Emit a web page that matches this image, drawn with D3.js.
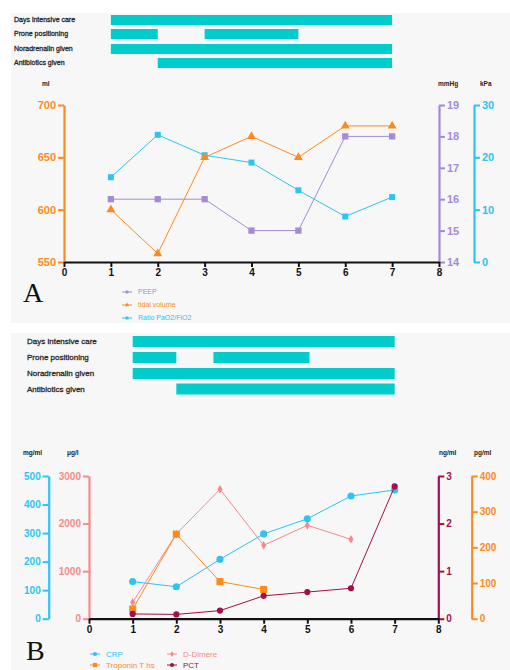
<!DOCTYPE html>
<html><head><meta charset="utf-8">
<script src="https://cdn.jsdelivr.net/npm/d3@7"></script>
<style>
body{margin:0;background:#fff;font-family:"Liberation Sans",Arial,sans-serif}
svg text{font-family:"Liberation Sans",Arial,sans-serif}
</style>
</head><body><svg id="chart"></svg><script>
// values
const xTicks = [0, 1, 2, 3, 4, 5, 6, 7, 8];
const days = [1, 2, 3, 4, 5, 6, 7];
const ganttRows = ['Days intensive care', 'Prone positioning', 'Noradrenalin given', 'Antibiotics given'];
const ganttA = [[[1, 7]], [[1, 2], [3, 5]], [[1, 7]], [[2, 7]]];
const ganttB = [[[1, 7]], [[1, 2], [2.85, 5.05]], [[1, 7]], [[2, 7]]];

const peep = [16, 16, 16, 15, 15, 18, 18];
const tidalVolume = [600, 558, 650, 670, 650, 680, 680];
const ratioPaO2 = [16.2, 24.3, 20.4, 19, 13.7, 8.7, 12.4];
const mlTicks = [550, 600, 650, 700];
const mmHgTicks = [14, 15, 16, 17, 18, 19];
const kPaTicks = [0, 10, 20, 30];

const crp = [130, 112, 208, 297, 350, 430, 451];
const dDimere = [345, 1780, 2720, 1543, 1963, 1669];
const troponin = [27, 237, 104, 82];
const pct = [0.1, 0.09, 0.17, 0.48, 0.56, 0.64, 2.78];
const mgmlTicks = [0, 100, 200, 300, 400, 500];
const ugTicks = [0, 1000, 2000, 3000];
const ngTicks = [0, 1, 2, 3];
const pgTicks = [0, 100, 200, 300, 400];

const col = {
  orange: '#ff8a1c', purple: '#a58bd6', cyan: '#2cc4f2', teal: '#00cccc',
  pink: '#f58a8a', crimson: '#a30f4b', bg: '#f7f7f7'
};

const svg = d3.select('#chart').attr('width', 510).attr('height', 670);

svg.append('rect').attr('x', 11).attr('y', 13).attr('width', 499).attr('height', 310).attr('fill', col.bg);
svg.append('rect').attr('x', 11).attr('y', 333).attr('width', 499).attr('height', 337).attr('fill', col.bg);

const gantt = (x, rows, ys, h, labelX, fs) => {
  rows.forEach((segs, i) => {
    svg.append('text')
      .attr('x', labelX).attr('y', ys[i]).attr('dy', '0.35em')
      .attr('font-size', fs).attr('fill', '#2a2a2a')
      .attr('stroke', '#2a2a2a').attr('stroke-width', 0.3)
      .text(ganttRows[i]);
    svg.append('g').selectAll('rect').data(segs).join('rect')
      .attr('x', d => x(d[0])).attr('width', d => x(d[1]) - x(d[0]))
      .attr('y', ys[i] - h / 2).attr('height', h)
      .attr('fill', col.teal);
  });
};

const yAxis = (axisFn, scale, ticks, xPos, color, fs) => {
  const g = svg.append('g')
    .attr('transform', `translate(${xPos},0)`)
    .call(axisFn(scale).tickValues(ticks).tickFormat(d3.format('d'))
      .tickSize(6).tickSizeOuter(0).tickPadding(2));
  g.select('.domain').attr('stroke', color).attr('stroke-width', 2.2);
  g.selectAll('.tick line').attr('stroke', color).attr('stroke-width', 2);
  g.selectAll('.tick text').attr('fill', color).attr('font-size', fs).attr('font-weight', 'bold')
    .attr('font-family', '"Liberation Sans",Arial,sans-serif');
  return g;
};

const xAxis = (x, yPos) => {
  const g = svg.append('g')
    .attr('transform', `translate(0,${yPos})`)
    .call(d3.axisBottom(x).tickValues(xTicks).tickFormat(d3.format('d'))
      .tickSize(5).tickSizeOuter(0).tickPadding(2));
  g.select('.domain').attr('stroke', '#111').attr('stroke-width', 2.2);
  g.selectAll('.tick line').attr('stroke', '#111').attr('stroke-width', 2);
  g.selectAll('.tick text').attr('fill', '#111').attr('font-size', 10).attr('font-weight', 'bold')
    .attr('font-family', '"Liberation Sans",Arial,sans-serif');
};

const unitLabel = (x, y, t) => svg.append('text').attr('x', x).attr('y', y)
  .attr('font-size', 6.5).attr('font-weight', 'bold').attr('fill', '#222').text(t);

const series = (x, y, vals, color, sym, size) => {
  const pts = vals.map((v, i) => [days[i], v]);
  svg.append('path').datum(pts)
    .attr('fill', 'none').attr('stroke', color).attr('stroke-width', 1)
    .attr('d', d3.line().x(d => x(d[0])).y(d => y(d[1])));
  svg.append('g').selectAll('path').data(pts).join('path')
    .attr('transform', d => `translate(${x(d[0])},${y(d[1])})`)
    .attr('d', d3.symbol().type(sym).size(size))
    .attr('fill', color);
};

const legendItem = (x, y, label, color, sym, size, fs) => {
  svg.append('line').attr('x1', x - 5).attr('x2', x + 5).attr('y1', y).attr('y2', y)
    .attr('stroke', color).attr('stroke-width', 1);
  svg.append('path').attr('transform', `translate(${x},${y})`)
    .attr('d', d3.symbol().type(sym).size(size)).attr('fill', color);
  svg.append('text').attr('x', x + 11).attr('y', y).attr('dy', '0.35em')
    .attr('font-size', fs).attr('fill', color).text(label);
};

// ---------- panel A ----------
const xA = d3.scaleLinear().domain([0, 8]).range([64, 439]);
const yMl = d3.scaleLinear().domain([550, 700]).range([262, 105]);
const yMmHg = d3.scaleLinear().domain([14, 19]).range([262, 105]);
const yKPa = d3.scaleLinear().domain([0, 30]).range([262, 105]);

gantt(xA, ganttA, [20, 34, 49, 63], 10, 14, 7);

yAxis(d3.axisLeft, yMl, mlTicks, 64, col.orange, 11);
yAxis(d3.axisRight, yMmHg, mmHgTicks, 439, col.purple, 11);
yAxis(d3.axisRight, yKPa, kPaTicks, 474, col.cyan, 11);
xAxis(xA, 262);
unitLabel(42, 86, 'ml');
unitLabel(438, 86, 'mmHg');
unitLabel(480, 86, 'kPa');

series(xA, yKPa, ratioPaO2, col.cyan, d3.symbolSquare, 36);
series(xA, yMl, tidalVolume, col.orange, d3.symbolTriangle, 34);
series(xA, yMmHg, peep, col.purple, d3.symbolSquare, 40);

svg.append('text').attr('x', 23).attr('y', 302)
  .style('font-family', '"Liberation Serif",serif')
  .attr('font-size', 28).attr('fill', '#111').text('A');

legendItem(127, 292, 'PEEP', col.purple, d3.symbolSquare, 8, 7);
legendItem(127, 305, 'tidal volume', col.orange, d3.symbolTriangle, 8, 7);
legendItem(127, 318, 'Ratio PaO2/FiO2', col.cyan, d3.symbolSquare, 8, 7);

// ---------- panel B ----------
const xB = d3.scaleLinear().domain([0, 8]).range([89, 438.3]);
const yMgMl = d3.scaleLinear().domain([0, 500]).range([618.7, 476]);
const yUg = d3.scaleLinear().domain([0, 3000]).range([618.7, 476]);
const yNg = d3.scaleLinear().domain([0, 3]).range([618.7, 476]);
const yPg = d3.scaleLinear().domain([0, 400]).range([618.7, 476]);

gantt(xB, ganttB, [341.5, 357.5, 373.5, 389], 11, 27, 8);

yAxis(d3.axisLeft, yMgMl, mgmlTicks, 48.7, col.cyan, 10);
yAxis(d3.axisLeft, yUg, ugTicks, 89, col.pink, 10);
yAxis(d3.axisRight, yNg, ngTicks, 438.3, col.crimson, 10);
yAxis(d3.axisRight, yPg, pgTicks, 471.7, col.orange, 10);
xAxis(xB, 618.7);
unitLabel(23, 455, 'mg/ml');
unitLabel(67, 455, 'μg/l');
unitLabel(439, 455, 'ng/ml');
unitLabel(474, 455, 'pg/ml');

series(xB, yUg, dDimere, col.pink, d3.symbolDiamond, 22);
series(xB, yPg, troponin, col.orange, d3.symbolSquare, 50);
series(xB, yMgMl, crp, col.cyan, d3.symbolCircle, 40);
series(xB, yNg, pct, col.crimson, d3.symbolCircle, 30);

svg.append('text').attr('x', 26).attr('y', 660)
  .style('font-family', '"Liberation Serif",serif')
  .attr('font-size', 28).attr('fill', '#111').text('B');

legendItem(95, 654, 'CRP', col.cyan, d3.symbolCircle, 14, 8);
legendItem(95, 665, 'Troponin T hs', col.orange, d3.symbolSquare, 18, 8);
legendItem(172, 654, 'D-Dimere', col.pink, d3.symbolDiamond, 10, 8);
legendItem(172, 665, 'PCT', col.crimson, d3.symbolCircle, 14, 8);
</script></body></html>
